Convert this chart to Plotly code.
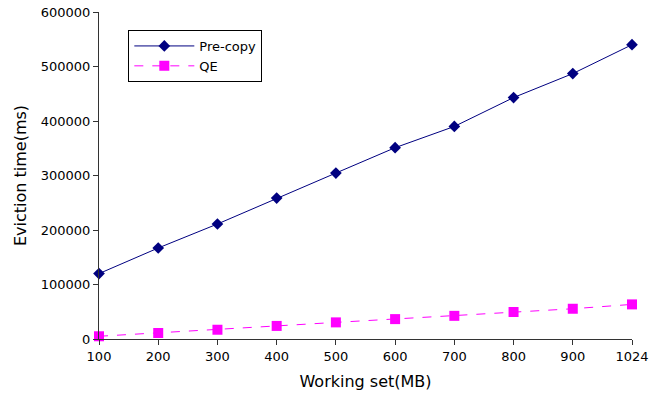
import plotly.graph_objects as go

working_set = ["100", "200", "300", "400", "500", "600", "700", "800", "900", "1024"]
precopy = [120000, 167000, 211000, 258500, 304500, 351000, 390000, 443000, 487000, 540000]
qe = [5000, 11000, 17000, 24000, 30500, 36500, 42500, 49500, 55500, 63500]

idx = list(range(len(working_set)))

fig = go.Figure()
fig.add_trace(go.Scatter(
    x=idx, y=precopy, name="Pre-copy", mode="lines+markers",
    line=dict(color="#000080", width=1),
    marker=dict(symbol="diamond", size=9, color="#000080"),
    cliponaxis=False,
))
fig.add_trace(go.Scatter(
    x=idx, y=qe, name="QE", mode="lines+markers",
    line=dict(color="#ff00ff", width=1, dash="dash"),
    marker=dict(symbol="square", size=10, color="#ff00ff"),
    cliponaxis=False,
))

fig.update_layout(
    width=662, height=401,
    margin=dict(l=99, r=30, t=12, b=62, autoexpand=False),
    paper_bgcolor="white", plot_bgcolor="white",
    font=dict(family="DejaVu Sans", size=13, color="black"),
    showlegend=True,
    legend=dict(
        x=0.055, y=0.945, xanchor="left", yanchor="top",
        bordercolor="black", borderwidth=1, bgcolor="white",
        font=dict(size=13), tracegroupgap=0, itemwidth=60,
    ),
    xaxis=dict(
        range=[0, 9], tickvals=idx, ticktext=working_set,
        showline=True, linecolor="#333", linewidth=1,
        ticks="outside", ticklen=5, tickcolor="#333",
        showgrid=False, zeroline=False,
        title=dict(text="Working set(MB)", font=dict(size=16), standoff=13),
    ),
    yaxis=dict(
        range=[0, 600000], tickvals=[0, 100000, 200000, 300000, 400000, 500000, 600000],
        tickformat="d",
        showline=True, linecolor="#333", linewidth=1,
        ticks="outside", ticklen=5, tickcolor="#333",
        showgrid=False, zeroline=False,
        title=dict(text="Eviction time(ms)", font=dict(size=16), standoff=10),
    ),
)

fig.write_html("out.html")
